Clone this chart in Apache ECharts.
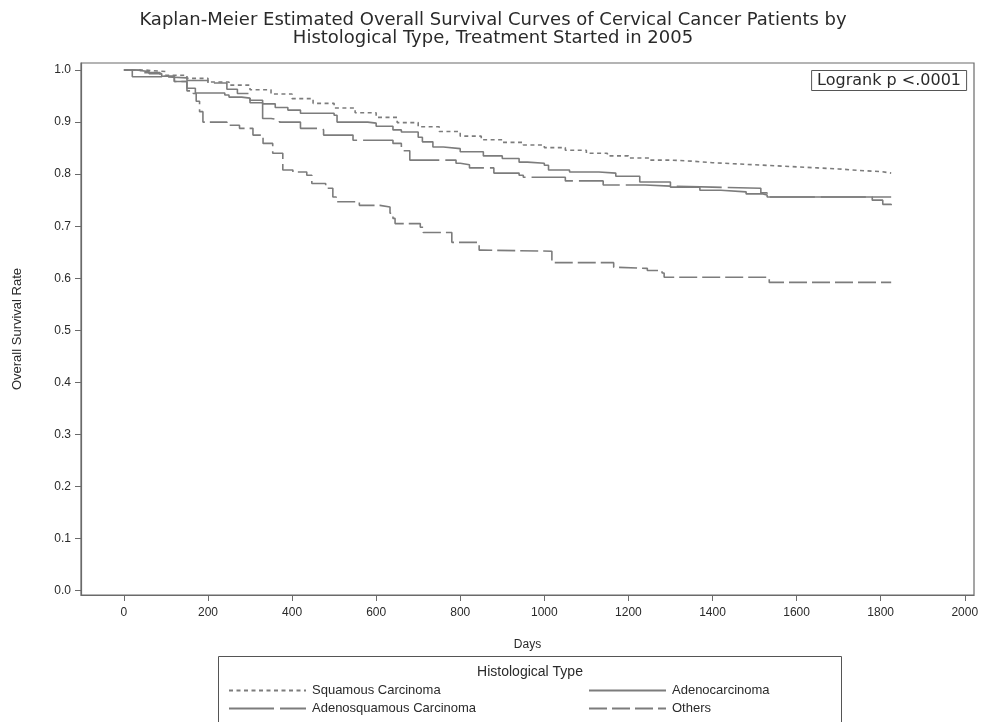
<!DOCTYPE html>
<html>
<head>
<meta charset="utf-8">
<script src="https://cdn.jsdelivr.net/npm/echarts@6/dist/echarts.min.js"></script>
<style>
  html, body { margin: 0; padding: 0; background: #ffffff; }
  #chart { width: 986px; height: 722px; }
</style>
</head>
<body>
<div id="chart"></div>
<script>
// Kaplan-Meier estimates: [day, survival probability] at each step
const squamous = [
  [0, 1.0], [50, 0.997], [100, 0.990], [150, 0.984], [200, 0.977], [250, 0.971],
  [300, 0.962], [350, 0.954], [400, 0.945], [450, 0.936], [500, 0.927], [550, 0.918],
  [600, 0.909], [650, 0.899], [700, 0.891], [750, 0.882], [800, 0.873], [850, 0.866],
  [900, 0.861], [950, 0.856], [1000, 0.851], [1050, 0.846], [1100, 0.840], [1150, 0.835],
  [1200, 0.831], [1250, 0.827], [1300, 0.825], [1350, 0.822], [1400, 0.820], [1450, 0.818],
  [1500, 0.816], [1550, 0.814], [1600, 0.812], [1650, 0.810], [1700, 0.807], [1750, 0.805],
  [1800, 0.802], [1825, 0.801]
];
const adenocarcinoma = [
  [0, 1.0], [30, 0.997], [60, 0.993], [90, 0.988], [120, 0.978], [150, 0.965],
  [170, 0.956], [240, 0.952], [250, 0.948], [280, 0.946], [300, 0.942], [330, 0.935],
  [360, 0.928], [390, 0.923], [420, 0.917], [500, 0.913], [507, 0.900], [580, 0.898],
  [600, 0.892], [640, 0.885], [660, 0.881], [700, 0.871], [710, 0.862], [735, 0.852],
  [760, 0.849], [800, 0.843], [855, 0.835], [900, 0.830], [940, 0.823], [960, 0.821],
  [1000, 0.817], [1010, 0.808], [1060, 0.804], [1130, 0.802], [1170, 0.796], [1227, 0.785],
  [1300, 0.775], [1370, 0.769], [1420, 0.766], [1480, 0.762], [1520, 0.760], [1530, 0.756],
  [1825, 0.756]
];
const adenosquamous = [
  [0, 1.0], [20, 0.987], [90, 0.985], [150, 0.980], [200, 0.975], [245, 0.963],
  [270, 0.955], [300, 0.937], [330, 0.907], [350, 0.904], [370, 0.900], [420, 0.888],
  [470, 0.885], [475, 0.875], [545, 0.865], [640, 0.859], [660, 0.845], [680, 0.827],
  [790, 0.821], [800, 0.818], [822, 0.812], [880, 0.802], [940, 0.798], [950, 0.794],
  [1050, 0.787], [1140, 0.779], [1240, 0.777], [1300, 0.775], [1400, 0.773], [1515, 0.764],
  [1530, 0.756], [1780, 0.750], [1805, 0.742], [1825, 0.740]
];
const others = [
  [0, 1.0], [40, 0.995], [86, 0.988], [120, 0.978], [150, 0.960], [165, 0.955],
  [172, 0.940], [180, 0.920], [188, 0.900], [245, 0.894], [275, 0.888], [307, 0.875],
  [331, 0.859], [354, 0.840], [378, 0.808], [402, 0.804], [435, 0.798], [447, 0.782],
  [480, 0.773], [497, 0.756], [505, 0.747], [560, 0.740], [609, 0.737], [633, 0.725],
  [640, 0.715], [645, 0.705], [705, 0.698], [712, 0.688], [780, 0.669], [845, 0.654],
  [850, 0.652], [1018, 0.630], [1165, 0.621], [1170, 0.619], [1245, 0.615], [1280, 0.610],
  [1285, 0.602], [1535, 0.592], [1825, 0.592]
];

const seriesNames = ['Squamous Carcinoma', 'Adenocarcinoma', 'Adenosquamous Carcinoma', 'Others'];
const xTicks = [0, 200, 400, 600, 800, 1000, 1200, 1400, 1600, 1800, 2000];
const yTicks = [0, 0.1, 0.2, 0.3, 0.4, 0.5, 0.6, 0.7, 0.8, 0.9, 1.0];

const FONT = 'Liberation Sans, Arial, sans-serif';
const WIDE = 'DejaVu Sans, Verdana, sans-serif';
const LINE = '#7c7c7c';
const AXIS = '#6a6a6a';
const TEXT = '#2a2a2a';

const chart = echarts.init(document.getElementById('chart'), null, { renderer: 'canvas' });

function kmSeries(name, data, dash) {
  return {
    name: name,
    type: 'line',
    step: 'end',
    data: data,
    symbol: 'none',
    showSymbol: false,
    animation: false,
    silent: true,
    lineStyle: { color: LINE, width: 1.6, type: dash },
    itemStyle: { color: LINE }
  };
}

// one legend block per entry so the two-column layout can be placed exactly
function legendEntry(name, left, top) {
  return {
    data: [name],
    left: left, top: top,
    itemWidth: 77, itemHeight: 12, itemGap: 0,
    padding: 0,
    selectedMode: false,
    itemStyle: { color: 'rgba(0,0,0,0)', borderColor: 'rgba(0,0,0,0)', borderWidth: 0, opacity: 0 },
    textStyle: { fontFamily: FONT, fontSize: 13, color: TEXT, padding: [0, 0, 0, 1] }
  };
}

chart.setOption({
  backgroundColor: '#ffffff',
  animation: false,
  title: [
    {
      text: 'Kaplan-Meier Estimated Overall Survival Curves of Cervical Cancer Patients by\nHistological Type, Treatment Started in 2005',
      left: 'center',
      top: 6,
      textStyle: { fontFamily: WIDE, fontSize: 18, fontWeight: 'normal', color: TEXT, lineHeight: 18 }
    },
    {
      text: 'Logrank p <.0001',
      right: 19,
      top: 70,
      padding: [3, 6, 2, 6],
      borderColor: '#555555',
      borderWidth: 1,
      textStyle: { fontFamily: WIDE, fontSize: 16, fontWeight: 'normal', color: TEXT }
    }
  ],
  grid: {
    left: 81, top: 63, right: 12, height: 532,
    show: true, borderColor: AXIS, borderWidth: 1.2, backgroundColor: 'transparent'
  },
  xAxis: {
    type: 'value',
    min: -102, max: 2022,
    name: 'Days',
    nameLocation: 'middle',
    nameGap: 44,
    nameTextStyle: { fontFamily: FONT, fontSize: 12, color: TEXT },
    axisLine: { show: true, onZero: false, lineStyle: { color: AXIS, width: 1.2 } },
    axisTick: { show: true, customValues: xTicks, length: 6, lineStyle: { color: AXIS } },
    axisLabel: {
      customValues: xTicks, margin: 12, fontFamily: FONT, fontSize: 12, color: TEXT,
      formatter: v => String(v)
    },
    splitLine: { show: false }
  },
  yAxis: {
    type: 'value',
    min: -0.0085, max: 1.0135,
    name: 'Overall Survival Rate',
    nameLocation: 'middle',
    nameRotate: 90,
    nameGap: 57,
    nameTextStyle: { fontFamily: FONT, fontSize: 13, color: TEXT },
    axisLine: { show: true, onZero: false, lineStyle: { color: AXIS, width: 1.2 } },
    axisTick: { show: true, customValues: yTicks, length: 6, lineStyle: { color: AXIS } },
    axisLabel: {
      customValues: yTicks, margin: 10, fontFamily: FONT, fontSize: 12, color: TEXT,
      formatter: v => v.toFixed(1)
    },
    splitLine: { show: false }
  },
  legend: [
    legendEntry(seriesNames[0], 228, 684),
    legendEntry(seriesNames[2], 228, 702),
    legendEntry(seriesNames[1], 588, 684),
    legendEntry(seriesNames[3], 588, 702)
  ],
  graphic: [
    {
      type: 'rect',
      shape: { x: 218.5, y: 656.5, width: 623, height: 70 },
      style: { fill: 'none', stroke: '#555555', lineWidth: 1 },
      silent: true
    },
    {
      type: 'text',
      x: 530, y: 665,
      style: { text: 'Histological Type', fontFamily: FONT, fontSize: 14, fill: TEXT, align: 'center' },
      silent: true
    }
  ],
  series: [
    kmSeries(seriesNames[0], squamous, [4, 3.5]),
    kmSeries(seriesNames[1], adenocarcinoma, 'solid'),
    kmSeries(seriesNames[2], adenosquamous, [45, 6]),
    kmSeries(seriesNames[3], others, [18, 5])
  ]
});
</script>
</body>
</html>
